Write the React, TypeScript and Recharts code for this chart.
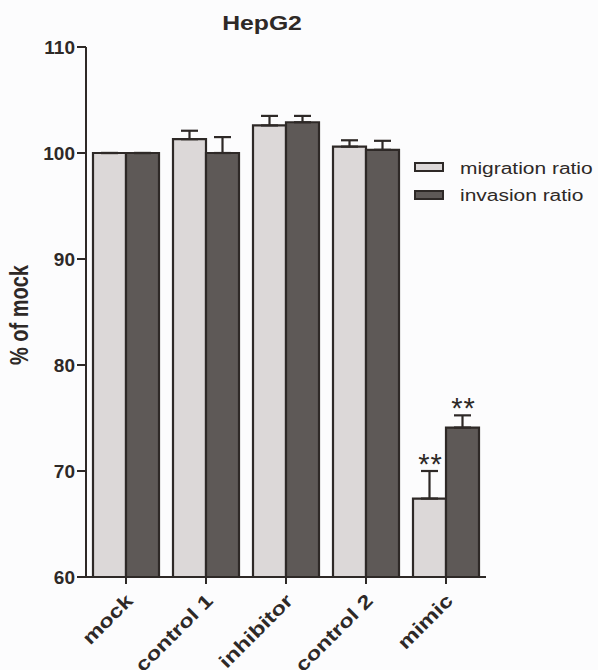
import { BarChart, Bar, XAxis, YAxis, ErrorBar, Label } from 'recharts';

const categories = ['mock', 'control 1', 'inhibitor', 'control 2', 'mimic'];
const migration = [100, 101.3, 102.6, 100.6, 67.4];
const migrationErr = [0, 0.8, 0.9, 0.6, 2.6];
const invasion = [100, 100.0, 102.9, 100.3, 74.1];
const invasionErr = [0, 1.5, 0.6, 0.85, 1.15];
const migrationSig = ['', '', '', '', '**'];
const invasionSig = ['', '', '', '', '**'];
const seriesNames = ['migration ratio', 'invasion ratio'];
const yTicks = [60, 70, 80, 90, 100, 110];
const Y_MIN = 60;
const Y_MAX = 110;

const INK = '#2e2927';
const LIGHT = '#dcd8d8';
const DARK = '#5e5957';
const FONT = '"Liberation Sans", Arial, sans-serif';

const data = categories.map((name, i) => ({
  name,
  migration: migration[i],
  migErr: [0, migrationErr[i]],
  invasion: invasion[i],
  invErr: [0, invasionErr[i]],
}));

// draws the "**" above the error cap of a bar
const sigLabel = (sig: string[], vals: number[], errs: number[]) => (p: any) => {
  const vb = p.viewBox ?? p;
  const x = p.x ?? vb.x;
  const y = p.y ?? vb.y;
  const w = p.width ?? vb.width;
  const h = p.height ?? vb.height;
  const i = p.index;
  if (!sig[i]) return null;
  const perUnit = h / (vals[i] - Y_MIN);
  const capY = y - errs[i] * perUnit;
  return (
    <text x={x + w / 2 + 1} y={capY + 3} textAnchor="middle" fontSize={29} letterSpacing={1} fill={INK} fontFamily={FONT}>
      {sig[i]}
    </text>
  );
};

const XTick = ({ x, y, payload }: any) => (
  <g transform={`translate(${x + 8},${y + 16})`}>
    <text transform="rotate(-45) scale(1.25,1)" textAnchor="end" fontSize={19} fontWeight={700} fill={INK} fontFamily={FONT}>
      {payload.value}
    </text>
  </g>
);

const YTitle = ({ viewBox }: any) => (
  <text
    transform={`translate(28,${viewBox.y + viewBox.height / 2 + 3}) scale(1.25,1) rotate(-90)`}
    textAnchor="middle"
    fontSize={20}
    fontWeight={700}
    fill={INK}
    fontFamily={FONT}
  >
    % of mock
  </text>
);

export default function App() {
  return (
    <div style={{ position: 'absolute', left: 0, top: 0, width: 598, height: 670, background: '#fcfcfd' }}>
      <BarChart
        width={598}
        height={670}
        data={data}
        margin={{ top: 47, right: 112, bottom: 13, left: 16 }}
        barCategoryGap={7}
        barGap={0}
      >
        <text transform="translate(262,29.5) scale(1.27,1)" textAnchor="middle" fontSize={19.5} fontWeight={700} fill={INK} fontFamily={FONT}>
          HepG2
        </text>
        <XAxis
          dataKey="name"
          height={80}
          interval={0}
          tickSize={7}
          stroke={INK}
          strokeWidth={2}
          tick={<XTick />}
        />
        <YAxis
          width={70}
          domain={[Y_MIN, Y_MAX]}
          ticks={yTicks}
          interval={0}
          tickSize={9}
          tickMargin={2}
          stroke={INK}
          strokeWidth={2}
          tick={{ fill: INK, fontSize: 19, fontWeight: 700, fontFamily: FONT }}
        >
          <Label content={<YTitle />} />
        </YAxis>
        <Bar dataKey="migration" name={seriesNames[0]} fill={LIGHT} stroke={INK} strokeWidth={2.2} isAnimationActive={false}
          label={sigLabel(migrationSig, migration, migrationErr)}>
          <ErrorBar dataKey="migErr" width={8.5} stroke={INK} strokeWidth={2.2} direction="y" />
        </Bar>
        <Bar dataKey="invasion" name={seriesNames[1]} fill={DARK} stroke={INK} strokeWidth={2.2} isAnimationActive={false}
          label={sigLabel(invasionSig, invasion, invasionErr)}>
          <ErrorBar dataKey="invErr" width={8.5} stroke={INK} strokeWidth={2.2} direction="y" />
        </Bar>
        <g fontFamily={FONT} fill={INK}>
          <rect x={415} y={163} width={28} height={8} fill={LIGHT} stroke={INK} strokeWidth={2} />
          <text transform="translate(460,174) scale(1.31,1)" fontSize={16}>{seriesNames[0]}</text>
          <rect x={415} y={191} width={28} height={8} fill={DARK} stroke={INK} strokeWidth={2} />
          <text transform="translate(460,201) scale(1.31,1)" fontSize={16}>{seriesNames[1]}</text>
        </g>
      </BarChart>
    </div>
  );
}
